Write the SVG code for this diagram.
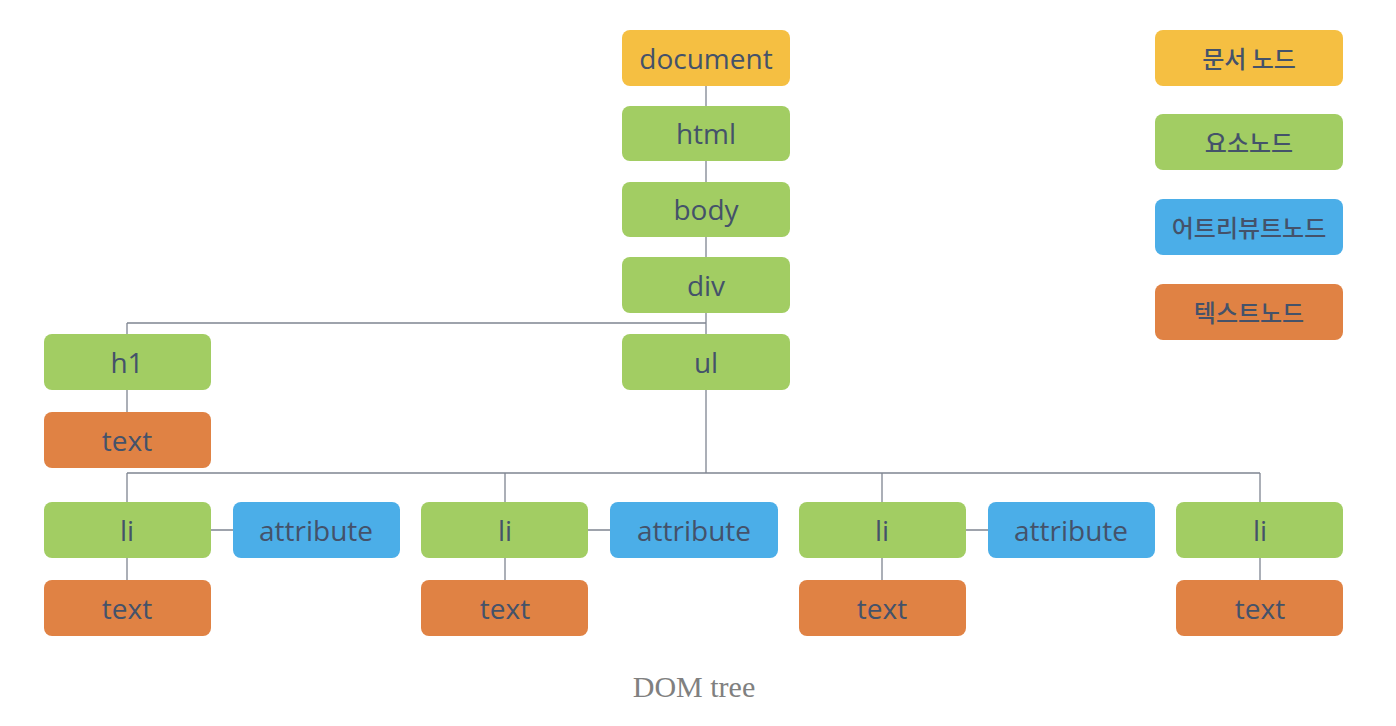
<svg xmlns="http://www.w3.org/2000/svg" width="1396" height="726" viewBox="0 0 1396 726">
<style>
.n{stroke:none}
.doc{fill:#F5BF42}
.el{fill:#A2CD63}
.at{fill:#4BAEE8}
.tx{fill:#E08244}
.t{font-family:"Open Sans","Noto Sans",sans-serif;font-size:28px;font-weight:500;fill:#44526A;text-anchor:middle;dominant-baseline:central}
.k{font-family:"Noto Sans CJK KR",sans-serif;font-size:24px;font-weight:500;fill:#44526A;text-anchor:middle;dominant-baseline:central}
.c{stroke:#7f8591;stroke-width:1.3;fill:none}
</style>
<rect width="1396" height="726" fill="#fff"/>
<g id="connectors">
<path class="c" d="M706 86V106M706 161V182M706 237V257M706 313V334M127 323H706M127 323V334M127 390V412M706 390V473M127 473H1260M127 473V502M505 473V502M882 473V502M1260 473V502M211 530H233M588 530H610M966 530H988M127 558V580M505 558V580M882 558V580M1260 558V580"/>
</g>
<g id="document"><rect class="doc" x="622" y="30" width="168" height="56" rx="8"/><text class="t" x="706" y="58">document</text></g>
<g id="html"><rect class="el" x="622" y="106" width="168" height="55" rx="8"/><text class="t" x="706" y="133">html</text></g>
<g id="body"><rect class="el" x="622" y="182" width="168" height="55" rx="8"/><text class="t" x="706" y="209">body</text></g>
<g id="div"><rect class="el" x="622" y="257" width="168" height="56" rx="8"/><text class="t" x="706" y="285">div</text></g>
<g id="h1"><rect class="el" x="44" y="334" width="167" height="56" rx="8"/><text class="t" x="127" y="362">h1</text></g>
<g id="ul"><rect class="el" x="622" y="334" width="168" height="56" rx="8"/><text class="t" x="706" y="362">ul</text></g>
<g id="h1-text"><rect class="tx" x="44" y="412" width="167" height="56" rx="8"/><text class="t" x="127" y="440">text</text></g>
<g id="li1"><rect class="el" x="44" y="502" width="167" height="56" rx="8"/><text class="t" x="127" y="530">li</text></g>
<g id="attr1"><rect class="at" x="233" y="502" width="167" height="56" rx="8"/><text class="t" x="316" y="530">attribute</text></g>
<g id="li2"><rect class="el" x="421" y="502" width="167" height="56" rx="8"/><text class="t" x="505" y="530">li</text></g>
<g id="attr2"><rect class="at" x="610" y="502" width="168" height="56" rx="8"/><text class="t" x="694" y="530">attribute</text></g>
<g id="li3"><rect class="el" x="799" y="502" width="167" height="56" rx="8"/><text class="t" x="882" y="530">li</text></g>
<g id="attr3"><rect class="at" x="988" y="502" width="167" height="56" rx="8"/><text class="t" x="1071" y="530">attribute</text></g>
<g id="li4"><rect class="el" x="1176" y="502" width="167" height="56" rx="8"/><text class="t" x="1260" y="530">li</text></g>
<g id="text1"><rect class="tx" x="44" y="580" width="167" height="56" rx="8"/><text class="t" x="127" y="608">text</text></g>
<g id="text2"><rect class="tx" x="421" y="580" width="167" height="56" rx="8"/><text class="t" x="505" y="608">text</text></g>
<g id="text3"><rect class="tx" x="799" y="580" width="167" height="56" rx="8"/><text class="t" x="882" y="608">text</text></g>
<g id="text4"><rect class="tx" x="1176" y="580" width="167" height="56" rx="8"/><text class="t" x="1260" y="608">text</text></g>
<g id="legend-doc"><rect class="doc" x="1155" y="30" width="188" height="56" rx="8"/><text class="k" x="1249" y="57">문서 노드</text></g>
<g id="legend-el"><rect class="el" x="1155" y="114" width="188" height="56" rx="8"/><text class="k" x="1249" y="141">요소노드</text></g>
<g id="legend-attr"><rect class="at" x="1155" y="199" width="188" height="56" rx="8"/><text class="k" x="1249" y="226">어트리뷰트노드</text></g>
<g id="legend-text"><rect class="tx" x="1155" y="284" width="188" height="56" rx="8"/><text class="k" x="1249" y="311">텍스트노드</text></g>
<text x="694" y="697" font-family="Liberation Serif,serif" font-size="30" fill="#808080" text-anchor="middle">DOM tree</text>
</svg>
